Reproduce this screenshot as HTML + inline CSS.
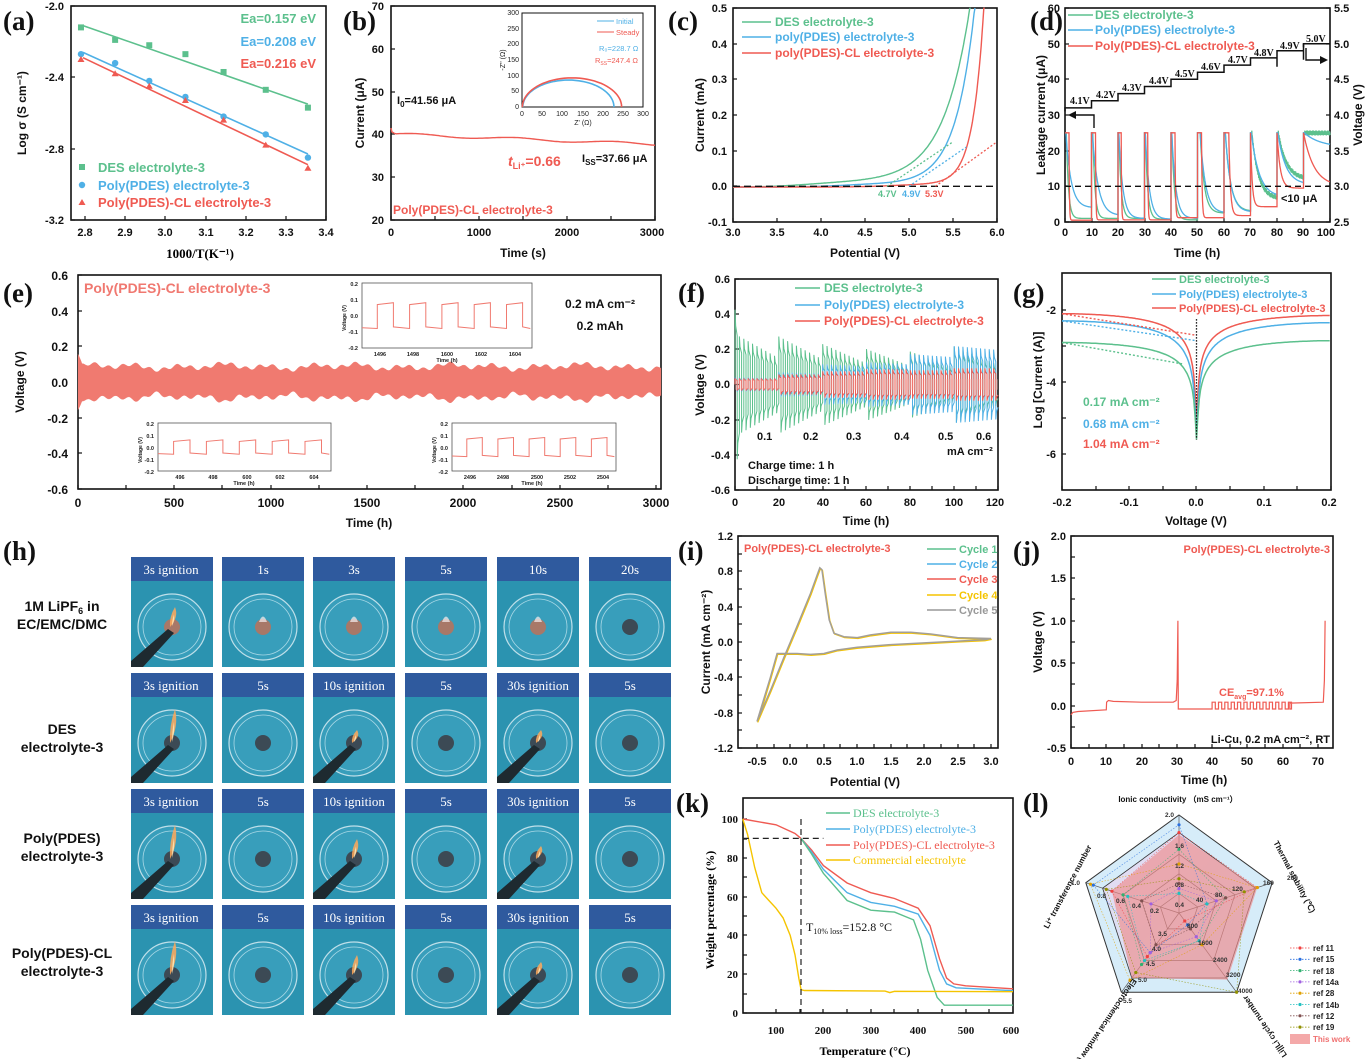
<!DOCTYPE html>
<html><head><meta charset="utf-8">
<style>
html,body{margin:0;padding:0;background:#fff;}
svg{display:block;font-family:"Liberation Sans",sans-serif;}
.t{font-size:11px;font-weight:bold;fill:#111;}
.ts{font-size:7px;fill:#222;}
.lt{font-family:"Liberation Serif",serif;font-weight:bold;font-size:27px;fill:#111;}
.ax{font-size:12px;font-weight:bold;fill:#111;}
.g{fill:#5cc08d;} .b{fill:#4fb0e6;} .r{fill:#ef5a52;}
.hd{font-family:"Liberation Serif",serif;font-size:13px;fill:#fff;}
.rl{font-size:14px;font-weight:bold;fill:#111;text-anchor:middle;}
</style></head><body>
<svg id="s" width="1367" height="1059" viewBox="0 0 1367 1059" xmlns="http://www.w3.org/2000/svg">
<defs>
<radialGradient id="fl" cx="50%" cy="70%" r="60%"><stop offset="0" stop-color="#fff6c8"/><stop offset="0.5" stop-color="#ffa040"/><stop offset="1" stop-color="#ff6020" stop-opacity="0"/></radialGradient>
<linearGradient id="rad" x1="0" y1="0" x2="1" y2="1"><stop offset="0" stop-color="#e6d8f0"/><stop offset="1" stop-color="#cfe9f8"/></linearGradient>
</defs>
<g id="plots"></g>
<text class="lt" x="3" y="30">(a)</text>
<text class="lt" x="343" y="30">(b)</text>
<text class="lt" x="668" y="30">(c)</text>
<text class="lt" x="1030" y="30">(d)</text>
<text class="lt" x="3" y="302">(e)</text>
<text class="lt" x="678" y="302">(f)</text>
<text class="lt" x="1013" y="302">(g)</text>
<text class="lt" x="3" y="560">(h)</text>
<text class="lt" x="678" y="560">(i)</text>
<text class="lt" x="1013" y="560">(j)</text>
<text class="lt" x="676" y="812">(k)</text>
<text class="lt" x="1023" y="812">(l)</text>

<g class="t" text-anchor="end"><text x="64" y="10">-2.0</text><text x="64" y="81">-2.4</text><text x="64" y="153">-2.8</text><text x="64" y="224">-3.2</text></g>
<g class="t" text-anchor="middle"><text x="85" y="236">2.8</text><text x="125" y="236">2.9</text><text x="165" y="236">3.0</text><text x="206" y="236">3.1</text><text x="246" y="236">3.2</text><text x="286" y="236">3.3</text><text x="326" y="236">3.4</text></g>
<text class="ax" transform="translate(26,113) rotate(-90)" text-anchor="middle">Log σ (S cm⁻¹)</text>
<text x="200" y="258" text-anchor="middle" style="font-family:'Liberation Serif',serif;font-weight:bold;font-size:13px">1000/T(K⁻¹)</text>
<g font-size="13" font-weight="bold" text-anchor="end"><text class="g" x="316" y="23">Ea=0.157 eV</text><text class="b" x="316" y="46">Ea=0.208 eV</text><text class="r" x="316" y="68">Ea=0.216 eV</text></g>
<g font-size="13" font-weight="bold"><text class="g" x="98" y="172">DES electrolyte-3</text><text class="b" x="98" y="190">Poly(PDES) electrolyte-3</text><text class="r" x="98" y="207">Poly(PDES)-CL electrolyte-3</text></g>

<g class="t" text-anchor="end"><text x="384" y="10">70</text><text x="384" y="53">60</text><text x="384" y="96">50</text><text x="384" y="138">40</text><text x="384" y="181">30</text><text x="384" y="224">20</text></g>
<g class="t" text-anchor="middle"><text x="391" y="236">0</text><text x="479" y="236">1000</text><text x="567" y="236">2000</text><text x="652" y="236">3000</text></g>
<text class="ax" x="523" y="257" text-anchor="middle">Time (s)</text>
<text class="ax" transform="translate(364,113) rotate(-90)" text-anchor="middle">Current (μA)</text>
<text class="t" x="397" y="104" font-size="12">I<tspan font-size="8" dy="3">0</tspan><tspan dy="-3">=41.56 μA</tspan></text>
<text class="t" x="582" y="162" font-size="12">I<tspan font-size="8" dy="3">SS</tspan><tspan dy="-3">=37.66 μA</tspan></text>
<text x="508" y="166" font-size="14" font-weight="bold" class="r"><tspan font-style="italic">t</tspan><tspan font-size="9" dy="3">Li⁺</tspan><tspan dy="-3">=0.66</tspan></text>
<text x="393" y="214" font-size="12" font-weight="bold" class="r">Poly(PDES)-CL electrolyte-3</text>
<g class="ts" text-anchor="end"><text x="519" y="109">0</text><text x="519" y="93">50</text><text x="519" y="78">100</text><text x="519" y="62">150</text><text x="519" y="46">200</text><text x="519" y="31">250</text><text x="519" y="15">300</text></g>
<g class="ts" text-anchor="middle"><text x="522" y="116">0</text><text x="542" y="116">50</text><text x="562" y="116">100</text><text x="583" y="116">150</text><text x="603" y="116">200</text><text x="623" y="116">250</text><text x="643" y="116">300</text></g>
<text class="ts" x="583" y="125" text-anchor="middle">Z' (Ω)</text>
<text class="ts" transform="translate(505,60) rotate(-90)" text-anchor="middle">-Z'' (Ω)</text>
<g font-size="7.5"><text class="b" x="616" y="24">Initial</text><text class="r" x="616" y="35">Steady</text><text class="b" x="599" y="51">R₀=228.7 Ω</text><text class="r" x="595" y="63">R<tspan font-size="5" dy="2">SS</tspan><tspan dy="-2">=247.4 Ω</tspan></text></g>

<g class="t" text-anchor="end"><text x="727" y="12">0.5</text><text x="727" y="48">0.4</text><text x="727" y="83">0.3</text><text x="727" y="119">0.2</text><text x="727" y="155">0.1</text><text x="727" y="190">0.0</text><text x="727" y="226">-0.1</text></g>
<g class="t" text-anchor="middle"><text x="733" y="236">3.0</text><text x="777" y="236">3.5</text><text x="821" y="236">4.0</text><text x="865" y="236">4.5</text><text x="909" y="236">5.0</text><text x="953" y="236">5.5</text><text x="997" y="236">6.0</text></g>
<text class="ax" x="865" y="257" text-anchor="middle">Potential (V)</text>
<text class="ax" transform="translate(704,115) rotate(-90)" text-anchor="middle">Current (mA)</text>
<g font-size="12" font-weight="bold"><text class="g" x="775" y="26">DES electrolyte-3</text><text class="b" x="775" y="41">poly(PDES) electrolyte-3</text><text class="r" x="775" y="57">poly(PDES)-CL electrolyte-3</text></g>
<g font-size="9" font-weight="bold"><text class="g" x="878" y="197">4.7V</text><text class="b" x="902" y="197">4.9V</text><text class="r" x="925" y="197">5.3V</text></g>

<g class="t" text-anchor="end"><text x="1060" y="226">0</text><text x="1060" y="190">10</text><text x="1060" y="155">20</text><text x="1060" y="119">30</text><text x="1060" y="83">40</text><text x="1060" y="48">50</text><text x="1060" y="12">60</text></g>
<g class="t" text-anchor="start"><text x="1334" y="226">2.5</text><text x="1334" y="190">3.0</text><text x="1334" y="155">3.5</text><text x="1334" y="119">4.0</text><text x="1334" y="83">4.5</text><text x="1334" y="48">5.0</text><text x="1334" y="12">5.5</text></g>
<g class="t" text-anchor="middle"><text x="1065" y="236">0</text><text x="1092" y="236">10</text><text x="1118" y="236">20</text><text x="1145" y="236">30</text><text x="1171" y="236">40</text><text x="1197" y="236">50</text><text x="1224" y="236">60</text><text x="1250" y="236">70</text><text x="1277" y="236">80</text><text x="1303" y="236">90</text><text x="1326" y="236">100</text></g>
<text class="ax" x="1197" y="257" text-anchor="middle">Time (h)</text>
<text class="ax" transform="translate(1045,115) rotate(-90)" text-anchor="middle">Leakage current (μA)</text>
<text class="ax" transform="translate(1362,115) rotate(-90)" text-anchor="middle">Voltage (V)</text>
<g font-size="12" font-weight="bold"><text class="g" x="1095" y="19">DES electrolyte-3</text><text class="b" x="1095" y="34">Poly(PDES) electrolyte-3</text><text class="r" x="1095" y="50">Poly(PDES)-CL electrolyte-3</text></g>
<text class="t" x="1281" y="202" font-size="12">&lt;10 μA</text>
<g font-family="Liberation Serif,serif" font-weight="bold" font-size="10" fill="#111">
<text x="1070" y="104">4.1V</text><text x="1096" y="98">4.2V</text><text x="1122" y="91">4.3V</text><text x="1149" y="84">4.4V</text><text x="1175" y="77">4.5V</text><text x="1201" y="70">4.6V</text><text x="1228" y="63">4.7V</text><text x="1254" y="56">4.8V</text><text x="1280" y="49">4.9V</text><text x="1306" y="42">5.0V</text></g>

<g class="ax" text-anchor="end" font-size="13"><text x="68" y="280">0.6</text><text x="68" y="316">0.4</text><text x="68" y="351">0.2</text><text x="68" y="387">0.0</text><text x="68" y="423">-0.2</text><text x="68" y="458">-0.4</text><text x="68" y="494">-0.6</text></g>
<g class="ax" text-anchor="middle" font-size="13"><text x="78" y="507">0</text><text x="174" y="507">500</text><text x="271" y="507">1000</text><text x="367" y="507">1500</text><text x="463" y="507">2000</text><text x="560" y="507">2500</text><text x="656" y="507">3000</text></g>
<text class="ax" x="369" y="527" text-anchor="middle" font-size="14">Time (h)</text>
<text class="ax" transform="translate(24,382) rotate(-90)" text-anchor="middle" font-size="13">Voltage (V)</text>
<text x="84" y="293" font-size="14" font-weight="bold" fill="#f07870">Poly(PDES)-CL electrolyte-3</text>
<text class="ax" x="600" y="308" text-anchor="middle" font-size="14">0.2 mA cm⁻²</text>
<text class="ax" x="600" y="330" text-anchor="middle" font-size="14">0.2 mAh</text>
<g font-size="5.5" font-weight="bold" fill="#222">
<text x="358" y="286" text-anchor="end">0.2</text><text x="358" y="302" text-anchor="end">0.1</text><text x="358" y="318" text-anchor="end">0.0</text><text x="358" y="334" text-anchor="end">-0.1</text><text x="358" y="350" text-anchor="end">-0.2</text>
<text x="380" y="356" text-anchor="middle">1496</text><text x="413" y="356" text-anchor="middle">1498</text><text x="447" y="356" text-anchor="middle">1600</text><text x="481" y="356" text-anchor="middle">1602</text><text x="515" y="356" text-anchor="middle">1604</text><text x="447" y="362" text-anchor="middle">Time (h)</text>
<text x="154" y="426" text-anchor="end">0.2</text><text x="154" y="438" text-anchor="end">0.1</text><text x="154" y="450" text-anchor="end">0.0</text><text x="154" y="462" text-anchor="end">-0.1</text><text x="154" y="474" text-anchor="end">-0.2</text>
<text x="180" y="479" text-anchor="middle">496</text><text x="213" y="479" text-anchor="middle">498</text><text x="247" y="479" text-anchor="middle">600</text><text x="280" y="479" text-anchor="middle">602</text><text x="314" y="479" text-anchor="middle">604</text><text x="244" y="485" text-anchor="middle">Time (h)</text>
<text x="448" y="426" text-anchor="end">0.2</text><text x="448" y="438" text-anchor="end">0.1</text><text x="448" y="450" text-anchor="end">0.0</text><text x="448" y="462" text-anchor="end">-0.1</text><text x="448" y="474" text-anchor="end">-0.2</text>
<text x="470" y="479" text-anchor="middle">2496</text><text x="503" y="479" text-anchor="middle">2498</text><text x="537" y="479" text-anchor="middle">2500</text><text x="570" y="479" text-anchor="middle">2502</text><text x="603" y="479" text-anchor="middle">2504</text><text x="532" y="485" text-anchor="middle">Time (h)</text>
</g>
<g font-size="5" font-weight="bold" fill="#222"><text transform="translate(346,318) rotate(-90)" text-anchor="middle">Voltage (V)</text><text transform="translate(142,450) rotate(-90)" text-anchor="middle">Voltage (V)</text><text transform="translate(436,450) rotate(-90)" text-anchor="middle">Voltage (V)</text></g>

<g class="t" text-anchor="end"><text x="730" y="283">0.6</text><text x="730" y="318">0.4</text><text x="730" y="353">0.2</text><text x="730" y="388">0.0</text><text x="730" y="424">-0.2</text><text x="730" y="459">-0.4</text><text x="730" y="494">-0.6</text></g>
<g class="t" text-anchor="middle"><text x="735" y="506">0</text><text x="779" y="506">20</text><text x="823" y="506">40</text><text x="866" y="506">60</text><text x="910" y="506">80</text><text x="954" y="506">100</text><text x="995" y="506">120</text></g>
<text class="ax" x="866" y="525" text-anchor="middle">Time (h)</text>
<text class="ax" transform="translate(704,385) rotate(-90)" text-anchor="middle">Voltage (V)</text>
<g font-size="12" font-weight="bold"><text class="g" x="824" y="292">DES electrolyte-3</text><text class="b" x="824" y="309">Poly(PDES) electrolyte-3</text><text class="r" x="824" y="325">Poly(PDES)-CL electrolyte-3</text></g>
<g class="t"><text x="757" y="440">0.1</text><text x="803" y="440">0.2</text><text x="846" y="440">0.3</text><text x="894" y="440">0.4</text><text x="938" y="440">0.5</text><text x="976" y="440">0.6</text><text x="947" y="455">mA cm⁻²</text><text x="748" y="469">Charge time: 1 h</text><text x="748" y="484">Discharge time: 1 h</text></g>

<g class="t" text-anchor="end"><text x="1056" y="314">-2</text><text x="1056" y="386">-4</text><text x="1056" y="458">-6</text></g>
<g class="t" text-anchor="middle"><text x="1062" y="506">-0.2</text><text x="1129" y="506">-0.1</text><text x="1196" y="506">0.0</text><text x="1264" y="506">0.1</text><text x="1329" y="506">0.2</text></g>
<text class="ax" x="1196" y="525" text-anchor="middle">Voltage (V)</text>
<text class="ax" transform="translate(1042,380) rotate(-90)" text-anchor="middle">Log [Current (A)]</text>
<g font-size="11" font-weight="bold"><text class="g" x="1179" y="283">DES electrolyte-3</text><text class="b" x="1179" y="298">Poly(PDES) electrolyte-3</text><text class="r" x="1179" y="312">Poly(PDES)-CL electrolyte-3</text></g>
<g font-size="12" font-weight="bold"><text class="g" x="1083" y="406">0.17 mA cm⁻²</text><text class="b" x="1083" y="428">0.68 mA cm⁻²</text><text class="r" x="1083" y="448">1.04 mA cm⁻²</text></g>

<text class="rl" x="62" y="611">1M LiPF<tspan font-size="9" dy="3">6</tspan><tspan dy="-3"> in</tspan></text><text class="rl" x="62" y="629">EC/EMC/DMC</text>
<text class="rl" x="62" y="734">DES</text><text class="rl" x="62" y="752">electrolyte-3</text>
<text class="rl" x="62" y="843">Poly(PDES)</text><text class="rl" x="62" y="861">electrolyte-3</text>
<text class="rl" x="62" y="958">Poly(PDES)-CL</text><text class="rl" x="62" y="976">electrolyte-3</text>
<g id="photos"></g>
<g text-anchor="middle" class="hd">
<text x="171" y="574">3s ignition</text><text x="263" y="574">1s</text><text x="354" y="574">3s</text><text x="446" y="574">5s</text><text x="538" y="574">10s</text><text x="630" y="574">20s</text>
<text x="171" y="690">3s ignition</text><text x="263" y="690">5s</text><text x="354" y="690">10s ignition</text><text x="446" y="690">5s</text><text x="538" y="690">30s ignition</text><text x="630" y="690">5s</text>
<text x="171" y="806">3s ignition</text><text x="263" y="806">5s</text><text x="354" y="806">10s ignition</text><text x="446" y="806">5s</text><text x="538" y="806">30s ignition</text><text x="630" y="806">5s</text>
<text x="171" y="922">3s ignition</text><text x="263" y="922">5s</text><text x="354" y="922">10s ignition</text><text x="446" y="922">5s</text><text x="538" y="922">30s ignition</text><text x="630" y="922">5s</text>
</g>

<g class="t" text-anchor="end"><text x="733" y="540">1.2</text><text x="733" y="575">0.8</text><text x="733" y="611">0.4</text><text x="733" y="646">0.0</text><text x="733" y="681">-0.4</text><text x="733" y="717">-0.8</text><text x="733" y="752">-1.2</text></g>
<g class="t" text-anchor="middle"><text x="757" y="765">-0.5</text><text x="790" y="765">0.0</text><text x="824" y="765">0.5</text><text x="857" y="765">1.0</text><text x="891" y="765">1.5</text><text x="924" y="765">2.0</text><text x="958" y="765">2.5</text><text x="991" y="765">3.0</text></g>
<text class="ax" x="865" y="786" text-anchor="middle">Potential (V)</text>
<text class="ax" transform="translate(710,642) rotate(-90)" text-anchor="middle">Current (mA cm⁻²)</text>
<text x="744" y="552" font-size="11" font-weight="bold" class="r">Poly(PDES)-CL electrolyte-3</text>
<g font-size="11" font-weight="bold"><text x="959" y="553" fill="#5cc08d">Cycle 1</text><text x="959" y="568" fill="#4fb0e6">Cycle 2</text><text x="959" y="583" fill="#ef5a52">Cycle 3</text><text x="959" y="599" fill="#f5c400">Cycle 4</text><text x="959" y="614" fill="#999">Cycle 5</text></g>

<g class="t" text-anchor="end"><text x="1066" y="540">2.0</text><text x="1066" y="582">1.5</text><text x="1066" y="625">1.0</text><text x="1066" y="667">0.5</text><text x="1066" y="710">0.0</text><text x="1066" y="752">-0.5</text></g>
<g class="t" text-anchor="middle"><text x="1071" y="765">0</text><text x="1106" y="765">10</text><text x="1142" y="765">20</text><text x="1177" y="765">30</text><text x="1212" y="765">40</text><text x="1247" y="765">50</text><text x="1283" y="765">60</text><text x="1318" y="765">70</text></g>
<text class="ax" x="1204" y="784" text-anchor="middle">Time (h)</text>
<text class="ax" transform="translate(1042,642) rotate(-90)" text-anchor="middle">Voltage (V)</text>
<text x="1330" y="553" font-size="11" font-weight="bold" class="r" text-anchor="end">Poly(PDES)-CL electrolyte-3</text>
<text x="1219" y="696" font-size="11" font-weight="bold" class="r">CE<tspan font-size="7" dy="3">avg</tspan><tspan dy="-3">=97.1%</tspan></text>
<text x="1330" y="743" font-size="11" font-weight="bold" text-anchor="end" fill="#111">Li-Cu, 0.2 mA cm⁻², RT</text>

<g font-family="Liberation Serif,serif" font-weight="bold" font-size="11" fill="#111" text-anchor="end"><text x="738" y="1017">0</text><text x="738" y="978">20</text><text x="738" y="939">40</text><text x="738" y="901">60</text><text x="738" y="862">80</text><text x="738" y="823">100</text></g>
<g font-family="Liberation Serif,serif" font-weight="bold" font-size="11" fill="#111" text-anchor="middle"><text x="776" y="1034">100</text><text x="823" y="1034">200</text><text x="871" y="1034">300</text><text x="918" y="1034">400</text><text x="966" y="1034">500</text><text x="1011" y="1034">600</text></g>
<text x="865" y="1055" text-anchor="middle" style="font-family:'Liberation Serif',serif;font-weight:bold;font-size:12px">Temperature (°C)</text>
<text transform="translate(714,910) rotate(-90)" text-anchor="middle" style="font-family:'Liberation Serif',serif;font-weight:bold;font-size:12px">Weight percentage (%)</text>
<g font-family="Liberation Serif,serif" font-size="12"><text x="853" y="817" fill="#5cc08d">DES electrolyte-3</text><text x="853" y="833" fill="#4fb0e6">Poly(PDES) electrolyte-3</text><text x="853" y="849" fill="#ef5a52">Poly(PDES)-CL electrolyte-3</text><text x="853" y="864" fill="#f5c400">Commercial electrolyte</text></g>
<text x="806" y="931" font-family="Liberation Serif,serif" font-size="12" fill="#111">T<tspan font-size="8" dy="3">10% loss</tspan><tspan dy="-3">=152.8 °C</tspan></text>

<g id="radar"></g>
<text x="1178" y="802" font-size="8" font-weight="bold" text-anchor="middle" fill="#111">Ionic conductivity （mS cm⁻¹）</text>
<text transform="translate(1292,878) rotate(62)" font-size="8" font-weight="bold" text-anchor="middle" fill="#111">Thermal stability (℃)</text>
<text transform="translate(1267,1025) rotate(-124)" font-size="8" font-weight="bold" text-anchor="middle" fill="#111">Li||Li cycle number</text>
<text transform="translate(1103,1022) rotate(124)" font-size="8" font-weight="bold" text-anchor="middle" fill="#111">Electrochemical window (V)</text>
<text transform="translate(1070,888) rotate(-62)" font-size="8" font-weight="bold" text-anchor="middle" fill="#111">Li⁺ transference number</text>
<g font-size="6.5" font-weight="bold" fill="#333">
<text x="1174" y="817" text-anchor="end">2.0</text><text x="1175" y="848">1.6</text><text x="1175" y="868">1.2</text><text x="1175" y="887">0.8</text><text x="1175" y="907">0.4</text>
<text x="1263" y="885">160</text><text x="1287" y="880">200</text><text x="1232" y="891">120</text><text x="1215" y="897">80</text><text x="1196" y="902">40</text>
<text x="1187" y="928">800</text><text x="1198" y="945">1600</text><text x="1213" y="962">2400</text><text x="1226" y="977">3200</text><text x="1238" y="993">4000</text>
<text x="1158" y="936">3.5</text><text x="1152" y="951">4.0</text><text x="1146" y="966">4.5</text><text x="1138" y="982">5.0</text><text x="1123" y="1003">5.5</text>
<text x="1080" y="885" text-anchor="end">1.0</text><text x="1097" y="898">0.8</text><text x="1116" y="903">0.6</text><text x="1132" y="908">0.4</text><text x="1150" y="913">0.2</text>
</g>
<g id="rleg" font-size="8" font-weight="bold" fill="#222">
<text x="1313" y="951">ref 11</text><text x="1313" y="962">ref 15</text><text x="1313" y="974">ref 18</text><text x="1313" y="985">ref 14a</text><text x="1313" y="996">ref 28</text><text x="1313" y="1008">ref 14b</text><text x="1313" y="1019">ref 12</text><text x="1313" y="1030">ref 19</text><text x="1313" y="1042" fill="#f07070">This work</text>
</g>
</svg>
<script>
const NS="http://www.w3.org/2000/svg";
const P=document.getElementById('plots');
function el(t,a,par){const e=document.createElementNS(NS,t);for(const k in a)e.setAttribute(k,a[k]);(par||P).appendChild(e);return e;}
function M(x0,x1,a,b,y0,y1,c,d){return (x,y)=>[x0+(x-a)/(b-a)*(x1-x0),y0+(y-c)/(d-c)*(y1-y0)];}
function pl(m,pts,col,w,dash,fill){const d=pts.map((p,i)=>{const q=m(p[0],p[1]);return (i?'L':'M')+q[0].toFixed(1)+' '+q[1].toFixed(1);}).join('');const a={d:d,stroke:col,'stroke-width':w||1.3,fill:fill||'none'};if(dash)a['stroke-dasharray']=dash;return el('path',a);}
function frame(x0,y0,x1,y1,xt,yt,yt2){el('rect',{x:x0,y:y0,width:x1-x0,height:y1-y0,fill:'none',stroke:'#111','stroke-width':1.6});
 (xt||[]).forEach(x=>el('line',{x1:x,x2:x,y1:y1,y2:y1-4,stroke:'#111','stroke-width':1.2}));
 (yt||[]).forEach(y=>el('line',{x1:x0,x2:x0+4,y1:y,y2:y,stroke:'#111','stroke-width':1.2}));
 (yt2||[]).forEach(y=>el('line',{x1:x1,x2:x1-4,y1:y,y2:y,stroke:'#111','stroke-width':1.2}));}
const G='#5cc08d',B='#4fb0e6',R='#ef5a52';
let m=M(85,326,2.8,3.4,220,6,-3.2,-2.0);
frame(71,6,326,220,[85,125,165,206,246,286,326],[6,77,149,220]);
const xs=[2.79,2.875,2.96,3.05,3.145,3.25,3.355];
const dat=[[G,[-2.12,-2.19,-2.22,-2.27,-2.37,-2.47,-2.57],-2.11,-2.55],[B,[-2.27,-2.32,-2.42,-2.51,-2.62,-2.72,-2.85],-2.26,-2.83],[R,[-2.30,-2.38,-2.45,-2.53,-2.64,-2.78,-2.91],-2.29,-2.89]];
dat.forEach((d,k)=>{pl(m,[[2.795,d[2]],[3.355,d[3]]],d[0],1.6);d[1].forEach((y,i)=>{const q=m(xs[i],y);if(k==0)el('rect',{x:q[0]-3,y:q[1]-3,width:6,height:6,fill:d[0]});else if(k==1)el('circle',{cx:q[0],cy:q[1],r:3.2,fill:d[0]});else el('path',{d:`M${q[0]} ${q[1]-3.5}l3.5 6h-7z`,fill:d[0]});});});
el('rect',{x:79,y:164,width:6,height:6,fill:G});el('circle',{cx:82,cy:185,r:3.2,fill:B});el('path',{d:'M82 199l3.5 6h-7z',fill:R});
m=M(391,655,0,3000,220,6,20,70);
frame(391,6,655,220,[391,435,479,523,567,611,655],[6,49,92,134,177,220]);
let pts=[[0,41.5],[10,40.6],[40,40.2]];for(let t=60;t<=3000;t+=20){pts.push([t,40.1-2.4*(t/3000)+0.3*Math.sin(t/180)]);}pl(m,pts,R,1.4);
m=M(522,643,0,300,107,13,0,300);
el('rect',{x:522,y:13,width:121,height:94,fill:'#fff',stroke:'#111','stroke-width':1});
[[B,115,113,86],[R,124,123,93]].forEach(c=>{let p=[];for(let i=0;i<=40;i++){const t=Math.PI*i/40;p.push([c[1]-c[2]*Math.cos(t),c[3]*Math.sin(t)]);}pl(m,p,c[0],1.6);});
el('line',{x1:597,x2:614,y1:21,y2:21,stroke:B});el('line',{x1:597,x2:614,y1:32,y2:32,stroke:R});
m=M(733,997,3,6,222,8,-0.1,0.5);
frame(733,8,997,222,[733,777,821,865,909,953,997],[8,44,79,115,151,186,222]);
function cv(f){let p=[];for(let x=3;x<=6;x+=0.01){let y=f(x);if(y>0.5){p.push([x,0.5]);break;}p.push([x,y]);}return p;}
pl(m,cv(x=>0.014/(1+Math.exp(-(x-3.8)*4))+0.05*Math.exp((x-5)*3.3)-0.003),G,1.4);
pl(m,cv(x=>0.008/(1+Math.exp(-(x-4.2)*5))+0.04*Math.exp((x-5.2)*4.6)-0.002),B,1.4);
pl(m,cv(x=>0.008/(1+Math.exp(-(x-4.8)*5))+0.03*Math.exp((x-5.5)*8)-0.002),R,1.4);
pl(m,[[3,0],[6,0]],'#111',1.4,'7 4');
pl(m,[[4.75,0],[5.5,0.125]],G,1.3,'2 2');pl(m,[[5.0,0],[5.65,0.11]],B,1.3,'2 2');pl(m,[[5.3,0],[6,0.125]],R,1.3,'2 2');
[[G,26],[B,41],[R,57]].forEach(a=>el('line',{x1:742,x2:771,y1:a[1]-4,y2:a[1]-4,stroke:a[0],'stroke-width':1.5}));
m=M(1065,1330,0,100,222,8,0,60);
frame(1065,8,1330,222,[1065,1092,1118,1145,1171,1197,1224,1250,1277,1303,1330],[8,44,79,115,151,186,222],[8,44,79,115,151,186,222]);
const Vy=v=>(v-2.5)/3*60;
pts=[[0,Vy(4.05)]];for(let i=0;i<10;i++){const v=Vy(4.1+0.1*i);pts.push([10*i,v],[10*i+10,v]);if(i>=7&&i<9){pts.push([10*i+10,v-2.5]);}}pl(m,pts,'#111',1.5);
pl(m,[[90,Vy(4.95)],[90,Vy(5.0)]],'#111',1.5);
function dec(col,taus,floors,hold){let p=[];for(let i=0;i<10;i++){const t0=10*i;p.push([t0,floors[i-1]||25],[t0,25],[t0+hold[i],25]);for(let t=hold[i];t<=10;t+=0.1){let y=floors[i]+(25-floors[i])*Math.exp(-(t-hold[i])/taus[i]);if(col===G&&i>=7)y+=Math.sin(t*40)*0.7;p.push([t0+t,y]);}}return pl(m,p,col,1.3);}
dec(G,[0.8,0.8,0.9,0.9,1,1.5,2,2.5,3,50],[1,1,1,0.8,0.6,2.5,3,6.5,12,24.8],[0.5,0.5,0.3,0.3,0.3,1,0.5,0.5,0.5,0.5]);
dec(B,[2,2.2,1.5,1.5,1.5,2,2,3,3,6],[4,1.8,1,0.8,1,2.5,2.8,7,10.5,21],[0.3,0.3,0.3,0.3,0.3,1,0.5,0.3,0.3,0.3]);
dec(R,[0.15,0.15,0.15,0.15,0.2,0.25,0.6,0.6,1.2,4],[0.5,0.6,0.6,0.6,1.2,1.2,1.8,4.3,9.5,10],[1.5,1.5,1.2,1.2,1.5,1.5,1.8,0.01,0.01,0.01]);
pl(m,[[0,10],[100,10]],'#111',1.3,'6 4');
el('path',{d:'M1094 128V115H1070',stroke:'#111','stroke-width':1.4,fill:'none'});el('path',{d:'M1068 115l8 -4v8z',fill:'#111'});
el('path',{d:'M1306 48V60H1325',stroke:'#111','stroke-width':1.4,fill:'none'});el('path',{d:'M1328 60l-8 -4v8z',fill:'#111'});
[[G,15],[B,30],[R,46]].forEach(a=>el('line',{x1:1068,x2:1093,y1:a[1],y2:a[1],stroke:a[0],'stroke-width':1.5}));
m=M(78,656,0,3000,489,275,-0.6,0.6);
frame(78,275,661,489,[78,126,174,222,271,319,367,415,463,512,560,608,656],[275,311,346,382,418,453,489]);
let up=[],lo=[];for(let t=0;t<=3025;t+=5){let a=0.085+0.012*Math.sin(t/37)+0.01*Math.sin(t/11.3)+0.008*Math.sin(t/97)+(t<20?0.07*(1-t/20):0);up.push([t,a]);lo.push([t,-a-0.005*Math.sin(t/23)]);}
pl(m,up.concat(lo.reverse()),'#f07a70',0.5,null,'#f07a70');
function inset(x0,y0,x1,y1,amp){el('rect',{x:x0,y:y0,width:x1-x0,height:y1-y0,fill:'#fff',stroke:'#555','stroke-width':0.8});const mm=M(x0,x1,0,10,y1,y0,-0.2,0.2);let p=[[0,-amp]];for(let k=0;k<5;k++){const s=0.9+1.9*k;p.push([s,-amp-0.005],[s,amp-0.008],[s+0.95,amp+0.004],[s+0.95,-amp+0.005],[s+1.9,-amp-0.005]);}p=p.map(q=>[Math.min(q[0],9.9),q[1]]);pl(mm,p,'#f07a70',1);}
inset(362,283,532,348,0.075);inset(158,423,331,471,0.055);inset(452,423,616,471,0.075);
m=M(735,998,0,120,490,279,-0.6,0.6);
frame(735,279,998,490,[735,757,779,801,823,845,866,888,910,932,954,976,998],[279,314,349,384.5,420,455,490]);
function osc(amp,col,w){let p=[[0,0]];for(let k=0;k<60;k++){const t=2*k,bi=Math.floor(t/20),a=amp(bi,(t%20)/20);p.push([t,a*1.15],[t+0.3,a*0.9],[t+1,a*0.75],[t+1,-a*1.15],[t+1.3,-a*0.9],[t+2,-a*0.75]);}return pl(m,p,col,w);}
osc((b,f)=>{const base=[0.2,0.19,0.16,0.14,0.13,0.15][b];return base*(1.25-0.6*f)+(b==0&&f<0.1?0.12:0);},G,1);
osc((b,f)=>[0.035,0.06,0.1,0.11,0.15,0.19][b]*(1-0.1*f),B,1);
osc((b,f)=>[0.03,0.05,0.065,0.075,0.07,0.08][b],R,1);
el('rect',{x:735,y:m(0,0.03)[1],width:263,height:m(0,-0.03)[1]-m(0,0.03)[1],fill:'#f7a8a0',opacity:0.35});
[[G,288],[B,305],[R,321]].forEach(a=>el('line',{x1:795,x2:820,y1:a[1],y2:a[1],stroke:a[0],'stroke-width':1.5}));
m=M(1062,1331,-0.2,0.2,490,273,-7,-0.97);
frame(1062,273,1331,490,[1062,1096,1129,1163,1196,1230,1264,1297,1331],[310,346,382,418,454]);
function tf(L,Rt,bot){let p=[];for(let v=-0.2;v<=0.2001;v+=0.002){const a=Math.max(Math.abs(v),0.0009);const s=-Math.log10(a/0.2)/2.35;const top=v<0?L:Rt;p.push([v,top-(top-bot)*Math.pow(s,1.6)]);}return p;}
pl(m,tf(-2.1,-2.15,-5.0),R,1.5);pl(m,tf(-2.3,-2.35,-5.5),B,1.5);pl(m,tf(-2.9,-2.85,-5.6),G,1.5);
pl(m,[[-0.2,-2.1],[0,-2.7]],R,1.4,'2 2');pl(m,[[-0.2,-2.3],[0,-2.85]],B,1.4,'2 2');pl(m,[[-0.2,-2.9],[-0.02,-3.5]],G,1.4,'2 2');
pl(m,[[0,-2.25],[0,-5.6]],'#111',1.3,'1.5 1.5');
[[G,279],[B,294],[R,308]].forEach(a=>el('line',{x1:1152,x2:1176,y1:a[1],y2:a[1],stroke:a[0],'stroke-width':1.5}));
m=M(757,991,-0.5,3.0,748,536,-1.2,1.2);
frame(738,536,998,748,[757,774,790,807,824,840,857,874,891,907,924,941,958,974,991],[536,554,571,589,607,624,642,660,677,695,713,730,748]);
const C=[[-0.5,-0.9],[-0.3,-0.55],[-0.1,-0.18],[0.1,0.18],[0.3,0.55],[0.4,0.76],[0.44,0.84],[0.47,0.82],[0.52,0.55],[0.58,0.25],[0.65,0.1],[0.8,0.06],[1.0,0.05],[1.2,0.08],[1.5,0.11],[1.8,0.11],[2.1,0.09],[2.5,0.05],[3.0,0.04],[2.9,0.025],[2.5,0.01],[2.0,-0.01],[1.5,-0.03],[1.0,-0.06],[0.7,-0.09],[0.5,-0.13],[0.3,-0.14],[0.1,-0.13],[-0.2,-0.13],[-0.3,-0.4],[-0.4,-0.65],[-0.5,-0.9]];
pl(m,C.map(p=>[p[0]+0.01,p[1]-0.01]),'#f5c400',1.3);pl(m,C,'#a39f98',1.5);
[[G,549],[B,564],[R,579],['#f5c400',595],['#999',610]].forEach(a=>el('line',{x1:927,x2:956,y1:a[1],y2:a[1],stroke:a[0],'stroke-width':1.5}));
m=M(1071,1318,0,70,748,536,-0.5,2.0);
frame(1071,536,1333,748,[1071,1089,1106,1124,1142,1159,1177,1195,1212,1230,1247,1265,1283,1300,1318],[536,557,578,599,621,642,663,684,706,727,748]);
pts=[[0,-0.11],[0.5,-0.08],[2,-0.07],[10,-0.05],[10.1,0.04],[10.6,0.06],[12,0.05],[20,0.04],[29,0.04],[29.8,0.06],[30.1,0.3],[30.3,1.0],[30.4,-0.04],[40,-0.04]];
for(let t=40;t<62;t+=1.8){pts.push([t,-0.04],[t,0.04],[t+0.9,0.04],[t+0.9,-0.04]);}pts.push([62,-0.04],[62,0.03],[71.5,0.04],[71.8,0.3],[72,1.0]);pl(m,pts,R,1.2);
m=M(776,1013,100,600,1013,819,0,100);
frame(743,798,1013,1013,[776,800,823,847,871,894,918,942,966,989],[1013,994,974,955,935,916,897,877,858,839,819]);
pl(m,[[30,100],[100,97],[140,92.5],[152.8,90],[175,84],[200,76],[250,67],[300,62],[350,59],[400,54],[425,45],[445,28],[460,18],[475,15],[500,14],[600,12.5]],R,1.4);
pl(m,[[152.8,90],[175,83],[200,74],[250,62],[300,57],[350,55],[400,51],[425,40],[445,22],[460,15],[480,13],[600,11.5]],B,1.4);
pl(m,[[152.8,90],[175,82],[200,72],[250,58],[300,53],[350,52],[390,48],[405,38],[420,22],[440,8],[455,4],[600,4]],G,1.4);
pl(m,[[30,100],[40,92],[55,75],[70,62],[85,58],[100,54],[115,49],[130,40],[140,30],[148,18],[153,12],[160,11.6],[330,11.3],[340,10.5],[350,11.2],[600,11]],'#f5c400',1.4);
pl(m,[[30,90],[200,90]],'#222',1.2,'6 4');pl(m,[[152.8,100],[152.8,0]],'#222',1.2,'6 4');
[[G,813],[B,829],[R,845],['#f5c400',860]].forEach(a=>el('line',{x1:826,x2:850,y1:a[1],y2:a[1],stroke:a[0],'stroke-width':1.5}));
const cx=1179,cy=913,Rr=98,RG=document.getElementById('radar');
const ang=[-90,-18,54,126,198].map(a=>a*Math.PI/180);
const V=(i,f)=>[cx+Rr*f*Math.cos(ang[i]),cy+Rr*f*Math.sin(ang[i])];
const poly=(fs)=>fs.map((f,i)=>V(i,f).map(v=>v.toFixed(1)).join(',')).join(' ');
el('polygon',{points:poly([1,1,1,1,1]),fill:'#d6ecf9',stroke:'#333','stroke-width':1},RG);
el('polygon',{points:poly([0.82,0.82,0.82,0.82,0.82]),fill:'url(#rad)',stroke:'#333','stroke-width':0.8},RG);
[0.2,0.4,0.6].forEach(f=>el('polygon',{points:poly([f,f,f,f,f]),fill:'none',stroke:'#555','stroke-width':0.7},RG));
for(let i=0;i<5;i++){const q=V(i,1);el('line',{x1:cx,y1:cy,x2:q[0],y2:q[1],stroke:'#555','stroke-width':0.7},RG);}
el('polygon',{points:poly([0.8,0.84,0.84,0.82,0.72]),fill:'#f08a8a',opacity:0.65,stroke:'none'},RG);
const rc=['#f04040','#2a70e0','#30b070','#a060e0','#e0a000','#20c0c0','#805050','#909000'];
const rv=[[0.82,0.84,0.1,0.55,0.72],[0.9,0.3,0.15,0.5,0.92],[0.65,0.5,0.35,0.65,0.6],[0.25,0.4,0.3,0.5,0.3],[0.5,0.84,0.4,0.85,0.95],[0.2,0.3,0.35,0.6,0.55],[0.3,0.5,0.2,0.4,0.4],[0.35,0.7,1,0.75,0.78]];
rv.forEach((v,k)=>{el('polygon',{points:poly(v),fill:'none',stroke:rc[k],'stroke-width':0.6,'stroke-dasharray':'1.5 1.5',opacity:0.8},RG);v.forEach((f,i)=>{const q=V(i,f);el('circle',{cx:q[0],cy:q[1],r:1.6,fill:rc[k]},RG);});});
rc.forEach((c,k)=>{const y=948+k*11.3;el('line',{x1:1290,x2:1310,y1:y,y2:y,stroke:c,'stroke-width':0.8,'stroke-dasharray':'1.5 1.5'});el('circle',{cx:1300,cy:y,r:1.6,fill:c});});
el('rect',{x:1290,y:1034,width:20,height:10,fill:'#f4a9a9'});
const PH=document.getElementById('photos');const cols=[131,222,313,405,497,589],rows=[557,673,789,905];
const flames=[[2,0,0,0,0,0],[3,0,1,0,1,0],[3,0,2,0,1,0],[3,0,2,0,1,0]];
rows.forEach((y,r)=>cols.forEach((x,c)=>{
 el('rect',{x:x,y:y,width:82,height:24,fill:'#2f5a9e'},PH);
 el('rect',{x:x,y:y+24,width:82,height:86,fill:'#2b93b0'},PH);
 const ox=x+41,oy=y+70;
 el('ellipse',{cx:ox,cy:oy,rx:34,ry:33,fill:'#3aa0bd',stroke:'#cfe8f0','stroke-width':1.2,opacity:0.9},PH);
 el('ellipse',{cx:ox,cy:oy,rx:29,ry:28,fill:'none',stroke:'#a8d8e6','stroke-width':0.8},PH);
 const f=flames[r][c];
 el('circle',{cx:ox,cy:oy,r:8,fill:(r==0&&c<5)?'#a87868':'#3c4a55'},PH);
 if(f>0){el('path',{d:`M${x} ${y+104}L${ox-4} ${oy+2}L${ox+2} ${oy+6}L${x+12} ${y+110}L${x} ${y+110}Z`,fill:'#1e2a30'},PH);}
 if(f>=1){const h=f==3?34:f==2?20:13;el('path',{d:`M${ox-2} ${oy}Q${ox+7} ${oy-h/2} ${ox+3} ${oy-h}Q${ox-3} ${oy-h/2} ${ox-2} ${oy}Z`,fill:'#ffa85a',opacity:0.85},PH);el('path',{d:`M${ox} ${oy-1}Q${ox+3} ${oy-h/3} ${ox+2} ${oy-h/1.6}Q${ox} ${oy-h/3} ${ox} ${oy-1}Z`,fill:'#fff0c0',opacity:0.8},PH);}
 if(r==0&&c>0&&c<5){el('path',{d:`M${ox-4} ${oy-5}Q${ox} ${oy-16} ${ox+4} ${oy-5}Z`,fill:'#f0e8ea',opacity:0.75},PH);}
}));
</script>
</body></html>
